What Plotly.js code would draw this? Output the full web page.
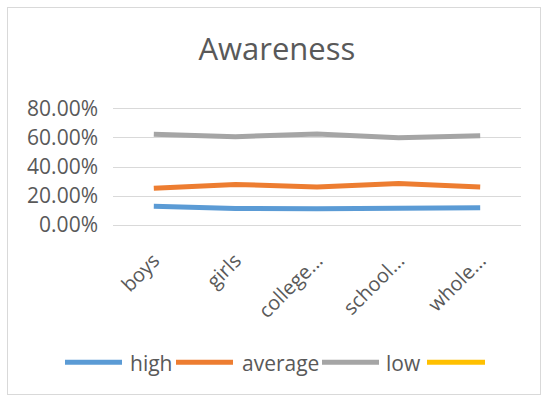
<!DOCTYPE html>
<html>
<head>
<meta charset="utf-8">
<script src="https://cdn.plot.ly/plotly-3.0.1.min.js"></script>
<style>
html,body{margin:0;padding:0;background:#fff;}
#wrap{position:relative;width:545px;height:400px;}
#chart{position:absolute;left:0;top:0;width:545px;height:400px;}
#frame{position:absolute;left:7px;top:7px;width:532px;height:386px;border:1px solid #d9d9d9;pointer-events:none;}
</style>
</head>
<body>
<div id="wrap"><div id="chart"></div><div id="frame"></div></div>
<script>
const categories = ["boys", "girls", "college...", "school...", "whole..."];
const seriesNames = ["high", "average", "low", " "];
const high = [0.129, 0.115, 0.113, 0.117, 0.119];
const average = [0.253, 0.280, 0.262, 0.287, 0.262];
const low = [0.625, 0.609, 0.628, 0.602, 0.616];
const fourth = [null, null, null, null, null];
const yTicks = [0, 0.2, 0.4, 0.6, 0.8];
const yTickText = ["0.00%", "20.00%", "40.00%", "60.00%", "80.00%"];

const colors = ["#5b9bd5", "#ed7d31", "#a5a5a5", "#ffc000"];
const fontFam = "Open Sans, sans-serif";
const gray = "#595959";

// plot area in pixels (0% at y=225, 80% at y=109, pad 0.02 each side)
const M = {l: 113, r: 24, t: 106.1, b: 172.1};
const W = 545, H = 400;
const pw = W - M.l - M.r, ph = H - M.t - M.b;
const px = x => (x - M.l) / pw;
const py = y => (H - M.b - y) / ph;

const allSeries = [high, average, low, fourth];
const data = allSeries.map((y, i) => ({
  x: categories, y: y, name: seriesNames[i], type: "scatter", mode: "lines",
  line: {color: colors[i], width: 5}, hoverinfo: "skip", showlegend: false
}));

// custom legend (long Excel-style line keys)
const legendY = 362;
const legendItems = [
  {x0: 65, x1: 122, tx: 128},
  {x0: 176, x1: 233, tx: 240},
  {x0: 322, x1: 379, tx: 384},
  {x0: 427, x1: 485, tx: null}
];
const shapes = legendItems.map((it, i) => ({
  type: "line", xref: "paper", yref: "paper",
  x0: px(it.x0), x1: px(it.x1), y0: py(legendY), y1: py(legendY),
  line: {color: colors[i], width: 5}
}));
const annotations = legendItems.filter(it => it.tx !== null).map((it, i) => ({
  xref: "paper", yref: "paper", x: px(it.tx), y: py(legendY + 1),
  xanchor: "left", yanchor: "middle", showarrow: false,
  text: seriesNames[i], font: {family: fontFam, size: 21, color: gray}
}));

const layout = {
  width: W, height: H,
  margin: M,
  paper_bgcolor: "#fff", plot_bgcolor: "#fff",
  font: {family: fontFam, color: gray, size: 21},
  title: {text: "Awareness", font: {family: fontFam, size: 31, color: gray},
          x: 0.508, xanchor: "center", y: 0.877, yanchor: "middle"},
  xaxis: {type: "category", showgrid: false, zeroline: false, showline: false,
          tickangle: -45, tickfont: {size: 20, color: gray}, ticks: "",
          ticklabelstandoff: 16, range: [-0.5, 4.5]},
  yaxis: {range: [-0.02, 0.82], tickvals: yTicks, ticktext: yTickText,
          showgrid: true, gridcolor: "#d9d9d9", gridwidth: 1, zeroline: false,
          showline: false, ticks: "", ticklabelstandoff: 14,
          tickfont: {size: 21, color: gray}},
  showlegend: false,
  shapes: shapes,
  annotations: annotations
};
Plotly.newPlot("chart", data, layout, {staticPlot: true, displayModeBar: false});
</script>
</body>
</html>
